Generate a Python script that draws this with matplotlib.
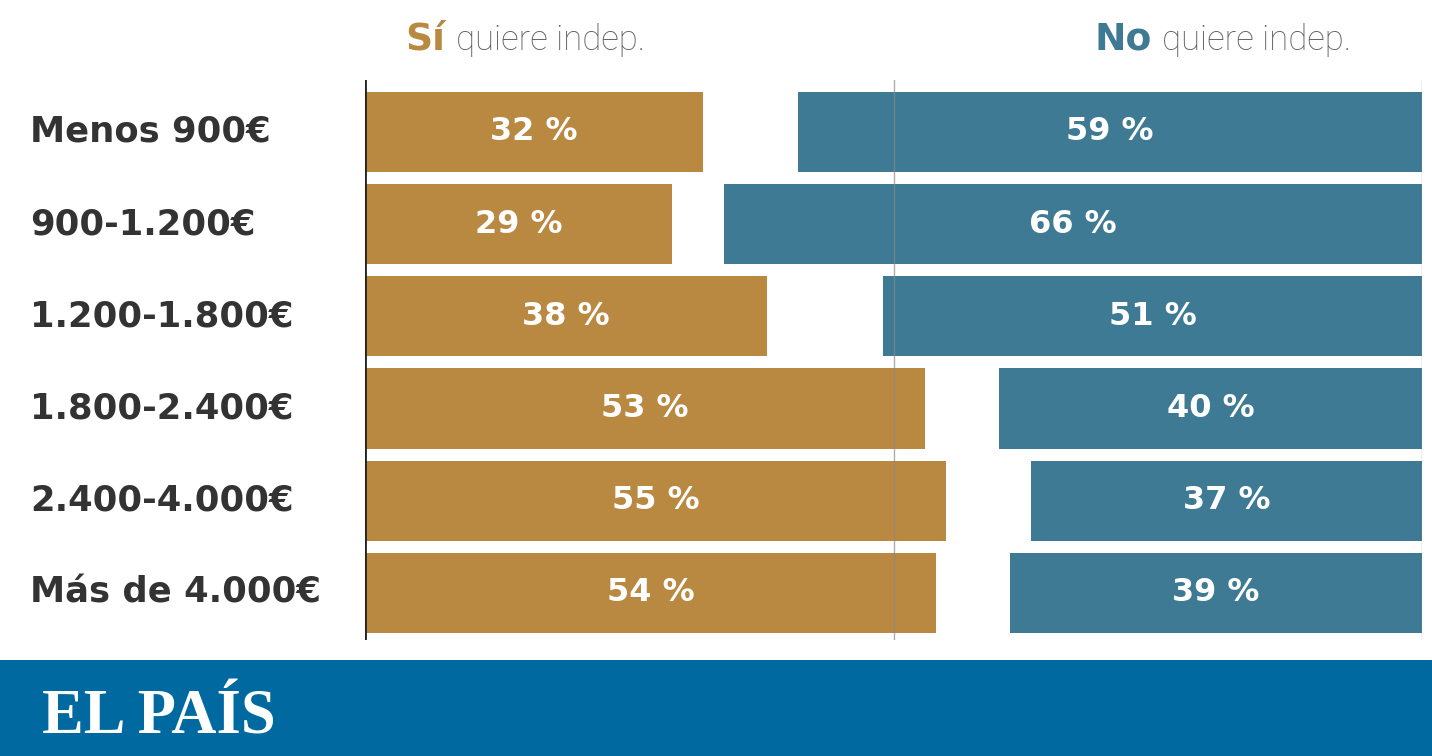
import matplotlib
matplotlib.use("Agg")
import matplotlib.pyplot as plt
from matplotlib.patches import Rectangle

# income brackets and survey shares (%)
categories = ["Menos 900€", "900-1.200€", "1.200-1.800€", "1.800-2.400€",
              "2.400-4.000€", "Más de 4.000€"]
si_vals = [32, 29, 38, 53, 55, 54]
no_vals = [59, 66, 51, 40, 37, 39]

gold = "#b98841"
teal = "#3e7a93"
footer_blue = "#0069a0"
label_col = "#333333"

plt.rcParams["font.family"] = ["DejaVu Sans"]

fig = plt.figure(figsize=(14.32, 7.56), dpi=100)
fig.patch.set_facecolor("white")

# axes placed to match pixel layout
ax = fig.add_axes([365 / 1432, 1 - 640 / 756, (1422 - 365) / 1432, 560 / 756])
ax.set_xlim(0, 100)
ax.set_ylim(5.51, -0.564)
ax.axis("off")

ypos = list(range(len(categories)))
ax.barh(ypos, si_vals, height=0.87, left=0, color=gold, zorder=2)
ax.barh(ypos, no_vals, height=0.87, left=[100 - v for v in no_vals],
        color=teal, zorder=2)

# axis line, middle and right guides
ax.axvline(0, color="#222222", lw=2, zorder=4)
ax.axvline(50, color="#8a8a8a", lw=1, alpha=0.7, zorder=3)
ax.axvline(100, color="#8a8a8a", lw=1, alpha=0.7, zorder=3)

for y, cat, s, n in zip(ypos, categories, si_vals, no_vals):
    ax.text(s / 2, y, f"{s} %", ha="center", va="center", color="white",
            fontsize=23, fontweight="bold", zorder=5)
    ax.text(100 - n / 2, y, f"{n} %", ha="center", va="center", color="white",
            fontsize=23, fontweight="bold", zorder=5)
    ax.text(-335 / 1057 * 100, y, cat, ha="left", va="center",
            color=label_col, fontsize=25.5, fontweight="bold")

# header: bold keyword followed by light text
fig.canvas.draw()
r = fig.canvas.get_renderer()
for x0, word, col in [(405, "Sí", gold), (1094, "No", teal)]:
    t = fig.text(x0 / 1432, 1 - 50 / 756, word, ha="left", va="baseline",
                 color=col, fontsize=27, fontweight="bold")
    bb = t.get_window_extent(r)
    fig.text((bb.x1 + 11) / 1432, 1 - 50 / 756, "quiere indep.", ha="left",
             va="baseline", color="#5e5e5e", fontsize=25, fontweight="light",
             family="Roboto")

# footer band with masthead
fig.patches.append(Rectangle((0, 0), 1, 96 / 756, transform=fig.transFigure,
                             facecolor=footer_blue, edgecolor="none"))
fig.text(42 / 1432, 1 - 733 / 756, "EL PAÍS", ha="left", va="baseline",
         color="white", fontsize=45, fontweight="bold",
         family=["Liberation Serif", "DejaVu Serif"])

fig.savefig("out.png", dpi=100)
